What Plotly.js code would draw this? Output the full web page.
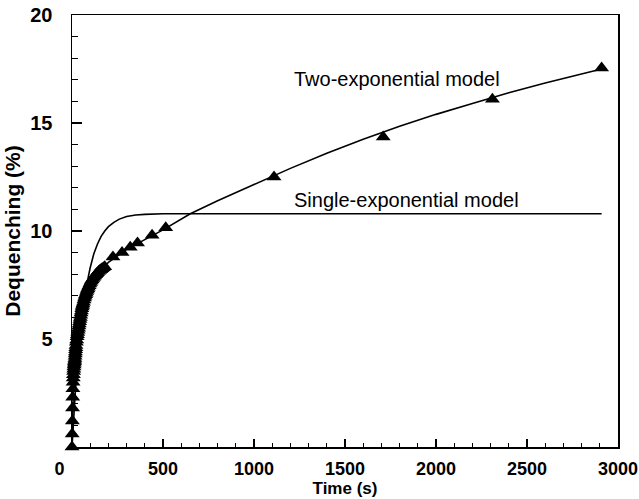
<!DOCTYPE html>
<html>
<head>
<meta charset="utf-8">
<script src="https://cdn.plot.ly/plotly-3.0.1.min.js"></script>
<style>html,body{margin:0;padding:0;background:#fff;}#chart{width:639px;height:499px;}</style>
</head>
<body>
<div id="chart"></div>
<script>
// Measured data (triangles)
const dataTime = [0,1,2,3,4,5,6,7,8,9,10,11,12,13,14,15,16,17,18,19,20,21,22,24,26,28,30,32,34,36,38,40,42,44,46,48,50,52,54,56,58,60,63,66,69,72,75,78,81,84,87,90,94,98,102,106,110,115,120,125,130,135,140,146,152,158,165,172,180,225,275,320,360,440,515,1110,1710,2310,2910];
const dataDeq  = [0,0.6,1.2,1.8,2.3,2.7,3.0,3.2,3.35,3.5,3.6,3.7,3.8,3.88,3.95,4.02,4.1,4.2,4.3,4.4,4.5,4.6,4.7,4.85,4.95,5.1,5.2,5.3,5.4,5.5,5.6,5.7,5.8,5.9,6.0,6.1,6.2,6.3,6.4,6.48,6.55,6.62,6.7,6.8,6.9,6.98,7.05,7.12,7.2,7.27,7.33,7.4,7.47,7.55,7.62,7.68,7.74,7.8,7.86,7.92,7.97,8.02,8.07,8.12,8.17,8.21,8.25,8.3,8.35,8.8,9.0,9.25,9.45,9.8,10.15,12.5,14.35,16.1,17.55];

// Two-exponential model curve
const twoTime = [0,5,10,20,30,50,70,100,150,200,300,400,500,650,800,1000,1200,1400,1600,1800,2000,2200,2400,2600,2800,2910];
const twoDeq  = [0,2.7,3.6,4.5,5.2,6.2,7.0,7.6,8.15,8.55,9.15,9.6,10.05,10.8,11.4,12.15,12.9,13.6,14.25,14.85,15.4,15.9,16.4,16.85,17.25,17.5];

// Single-exponential model curve
const oneTime = [0,10,20,30,40,50,60,70,80,90,100,120,140,160,180,200,230,260,300,350,400,450,500,600,800,1000,1500,2000,2500,2910];
const oneDeq  = [0,1.5,2.8,3.8,4.7,5.5,6.2,6.8,7.4,7.9,8.3,8.95,9.4,9.75,10.0,10.2,10.4,10.55,10.67,10.74,10.77,10.79,10.8,10.8,10.8,10.8,10.8,10.8,10.8,10.8];

const xTicks = [0,500,1000,1500,2000,2500,3000];
const xTickText = ["0\u00a0\u00a0\u00a0\u00a0\u00a0","500","1000","1500","2000","2500","3000"];
const yTicks = [5,10,15,20];
const labels = ["Two-exponential model","Single-exponential model"];

const font = "Liberation Sans, Arial, sans-serif";

const traces = [
  {x: oneTime, y: oneDeq, mode:'lines', line:{color:'#000', width:1.6}, showlegend:false},
  {x: twoTime, y: twoDeq, mode:'lines', line:{color:'#000', width:1.6}, showlegend:false},
  {x: dataTime, y: dataDeq, mode:'markers', marker:{symbol:'triangle-up', size:13, color:'#000'}, showlegend:false, cliponaxis:false}
];

const layout = {
  width:639, height:499,
  margin:{l:72, r:21, t:15, b:52},
  paper_bgcolor:'#fff', plot_bgcolor:'#fff',
  font:{family:font, color:'#000'},
  xaxis:{
    range:[0,3000], tickvals:xTicks, ticktext:xTickText,
    ticks:'inside', ticklen:8, tickwidth:1.3, tickcolor:'#000',
    minor:{ticks:'inside', dtick:100, ticklen:4, tickwidth:1.2, tickcolor:'#000', showgrid:false},
    showline:true, linecolor:'#000', linewidth:1.5, mirror:true,
    showgrid:false, zeroline:false,
    tickfont:{family:font, size:18, color:'#000', weight:'bold'},
    ticklabelstandoff:5,
    ticklabeloverflow:'allow',
    automargin:false,
    title:{text:'Time (s)', font:{family:font, size:17, color:'#000', weight:'bold'}, standoff:0}
  },
  yaxis:{
    range:[0,20], tickvals:yTicks, ticktext:yTicks.map(String),
    ticks:'inside', ticklen:10, tickwidth:1.3, tickcolor:'#000',
    minor:{ticks:'inside', dtick:1, ticklen:6, tickwidth:1.2, tickcolor:'#000', showgrid:false},
    showline:true, linecolor:'#000', linewidth:1.5, mirror:true,
    showgrid:false, zeroline:false,
    tickfont:{family:font, size:20, color:'#000', weight:'bold'},
    ticklabelstandoff:14,
    automargin:false,
    title:{text:'Dequenching (%)', font:{family:font, size:21, color:'#000', weight:'bold'}, standoff:4}
  },
  annotations:[
    {x:1209, y:17.04, xref:'x', yref:'y', text:labels[0], showarrow:false, xanchor:'left', yanchor:'middle', font:{family:font, size:20, color:'#000'}},
    {x:1209, y:11.43, xref:'x', yref:'y', text:labels[1], showarrow:false, xanchor:'left', yanchor:'middle', font:{family:font, size:20, color:'#000'}}
  ]
};

Plotly.newPlot('chart', traces, layout, {displayModeBar:false, staticPlot:true});
</script>
</body>
</html>
